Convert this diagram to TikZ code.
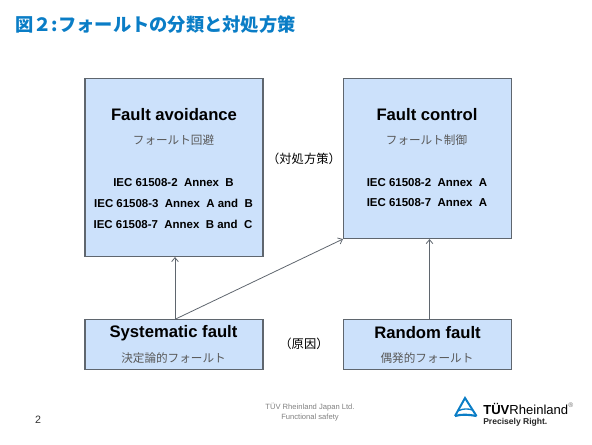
\documentclass[tikz,border=0pt]{standalone}
\usepackage{fontspec}
\setmainfont{Liberation Sans}
\newfontfamily\jpfont{Noto Sans CJK JP}
\usetikzlibrary{arrows.meta}
\definecolor{boxfill}{HTML}{CCE1FB}
\definecolor{boxline}{HTML}{5F666E}
\definecolor{tuvblue}{HTML}{0A7DC6}
\tikzset{%
  faultbox/.style={draw=boxline, fill=boxfill, line width=0.8pt, minimum width=133.5pt, inner sep=0pt},
  link/.style={draw=boxline, line width=0.6pt, -{Straight Barb[length=3pt,width=5pt]}},
  headtxt/.style={font=\bfseries\fontsize{12.5}{15}\selectfont},
  subtxt/.style={font=\jpfont\fontsize{8.7}{11}\selectfont, text=black!65},
  stdtxt/.style={font=\bfseries\fontsize{8.6}{10}\selectfont},
  causetxt/.style={font=\jpfont\fontsize{9.2}{11}\selectfont},
}
\begin{document}
\begin{tikzpicture}[x=0.75pt, y=-0.75pt]
    \useasboundingbox (0,0) rectangle (592,444);

    %title
    \node[anchor=west, inner sep=0pt, text=tuvblue, font=\jpfont\bfseries\fontsize{13.7}{16}\selectfont] (title) at (15,25) {図２:フォールトの分類と対処方策};

    %boxes
    \node[faultbox, minimum height=133.5pt] (avoid) at (174,167.5) {};
    \node[faultbox, minimum width=126pt, minimum height=120pt] (control) at (427.5,158.5) {};
    \node[faultbox, minimum height=37pt] (systematic) at (174,344.5) {};
    \node[faultbox, minimum width=126pt, minimum height=37pt] (random) at (427.5,344.5) {};

    %texts in the upper boxes
    \node[headtxt] (avoidhead) at (174,114.5) {Fault avoidance};
    \node[subtxt] (avoidsub) at (173.5,140.5) {フォールト回避};
    \node[stdtxt] (avoid2) at (173.5,183) {IEC 61508-2 \ Annex \ B};
    \node[stdtxt] (avoid3) at (173.5,203) {IEC 61508-3 \ Annex \ A and \ B};
    \node[stdtxt] (avoid7) at (173,224) {IEC 61508-7 \ Annex \ B and \ C};
    \node[headtxt] (controlhead) at (427,114.5) {Fault control};
    \node[subtxt] (controlsub) at (426.5,140.5) {フォールト制御};
    \node[stdtxt] (control2) at (427,183) {IEC 61508-2 \ Annex \ A};
    \node[stdtxt] (control7) at (427,203) {IEC 61508-7 \ Annex \ A};

    %texts in the lower boxes
    \node[headtxt] (systematichead) at (173.5,333) {Systematic fault};
    \node[subtxt] (systematicsub) at (173.5,358.5) {決定論的フォールト};
    \node[headtxt] (randomhead) at (427.5,333) {Random fault};
    \node[subtxt] (randomsub) at (427,358.5) {偶発的フォールト};

    %between the boxes
    \node[causetxt] (measure) at (304,158.5) {（対処方策）};
    \node[causetxt] (cause) at (304,344) {（原因）};

    %arrows
    \draw[link] ([xshift=0.75pt]systematic.north) -- ([xshift=0.75pt]avoid.south);
    \draw[link] ([xshift=0.75pt]systematic.north) -- (control.south west);
    \draw[link] ([xshift=1.5pt]random.north) -- ([xshift=1.5pt]control.south);

    %footer
    \node[font=\fontsize{5.7}{7.5}\selectfont, text=black!50, align=center] (footer) at (310,412.5) {TÜV Rheinland Japan Ltd.\\Functional safety};
    \node[font=\fontsize{8}{10}\selectfont, text=black!80] (pageno) at (38,420) {2};

    %logo
    \draw[tuvblue, line width=1.5pt, line join=miter] (455,416) -- (465,398) -- (476.5,416);
    \draw[tuvblue, line width=1.6pt] (455,416) .. controls (462,414) and (468,414.5) .. (476.5,416);
    \draw[tuvblue, line width=1pt] (459,410.5) .. controls (463,408.5) and (468,408.5) .. (472.5,410);
    \node[anchor=west, inner sep=0pt, font=\fontsize{9.8}{12}\selectfont] (logoname) at (483,408.5) {\textbf{TÜV}Rheinland};
    \node[anchor=west, inner sep=0pt, font=\fontsize{5}{6}\selectfont, text=black!60] (logomark) at (568,405) {®};
    \node[anchor=west, inner sep=0pt, font=\bfseries\fontsize{6.4}{8}\selectfont, text=black!85] (logoclaim) at (483,422) {Precisely Right.};
\end{tikzpicture}
\end{document}
